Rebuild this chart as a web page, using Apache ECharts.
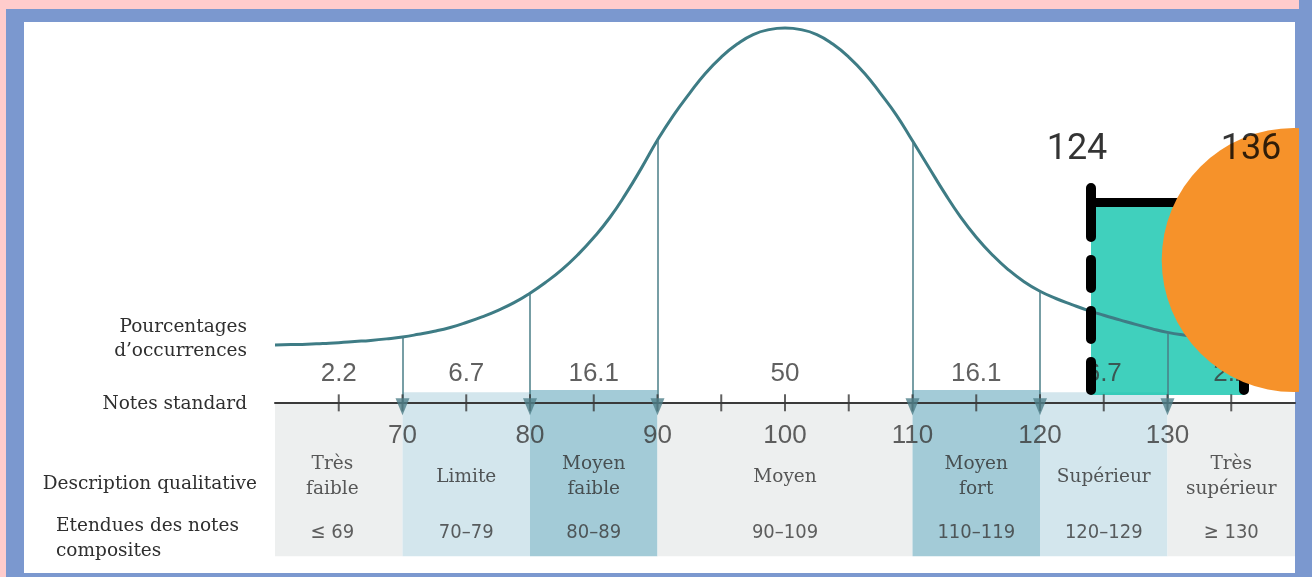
<!DOCTYPE html>
<html><head><meta charset="utf-8">
<script src="https://cdn.jsdelivr.net/npm/echarts/dist/echarts.min.js"></script>
<style>
html,body{margin:0;padding:0;width:1312px;height:577px;overflow:hidden;background:#FFCCCC;}
#frame{position:absolute;left:6px;top:9px;width:1306px;height:568px;background:#7B98CF;}
#chart{position:absolute;left:0;top:0;width:1312px;height:577px;}
</style></head><body><div id="frame"></div><div id="chart"></div>
<script>
// ---- data ----
const curveX = [60,61.25,62.5,63.75,65,66.25,67.5,68.75,70,71.25,72.5,73.75,75,76.25,77.5,78.75,80,81.25,82.5,83.75,85,86.25,87.5,88.75,90,91.25,92.5,93.75,95,96.25,97.5,98.75,100,
                101.25,102.5,103.75,105,106.25,107.5,108.75,110,111.25,112.5,113.75,115,116.25,117.5,118.75,120,121.25,122.5,123.75,125,126.25,127.5,128.75,130,131.25,132.5,133.75,135,136.25,137.5,138.75,140];
const curveY = [15.2,15.3,15.4,15.6,15.8,16.1,16.4,16.8,17.3,18.0,18.8,19.8,21.1,22.6,24.3,26.3,28.8,31.7,35.0,38.9,43.4,48.6,54.8,61.7,69.0,75.5,81.2,86.5,90.8,94.2,96.7,98.0,98.4,
                98.0,96.7,94.2,90.8,86.5,81.2,75.5,68.8,62.0,55.2,48.9,43.5,38.9,35.0,31.8,29.3,27.4,25.8,24.3,23.0,21.8,20.6,19.5,18.5,17.8,17.3,16.9,16.5,16.2,16.0,15.8,15.6];
const dropX = [70,80,90,110,120,130];
const tickX = [65,70,75,80,85,90,95,100,105,110,115,120,125,130,135];
const axisLabelValues = [70,80,90,100,110,120,130];
const percentX = [65,75,85,100,115,125,135];
const percentLabels = ['2.2','6.7','16.1','50','16.1','6.7','2.2'];
const bandEdges = [60,70,80,90,110,120,130,140];
const bandTones = ['gray','light','medium','gray','medium','light','gray'];
const columnX = [64.5,75,85,100,115,125,135];
const descriptions = ['Très\nfaible','Limite','Moyen\nfaible','Moyen','Moyen\nfort','Supérieur','Très\nsupérieur'];
const ranges = ['≤ 69','70–79','80–89','90–109','110–119','120–129','≥ 130'];
const highlightRange = [124,136];
const highlightLabels = ['124','136'];
const circleCenter = [139.9, 37.5];
const rowLabels = ['Pourcentages','d’occurrences','Notes standard','Description qualitative','Etendues des notes','composites'];

// ---- styles ----
const toneColor = {gray:'#EDEFEF', light:'#D3E6ED', medium:'#A3CBD7'};
const toneTop = {gray:0, light:2.8, medium:3.4};
const sans = '"Liberation Sans", Arial, sans-serif';
const serif = '"DejaVu Serif", serif';
const ink = '#383838';
const serifInk = '#2f2f2f';

const curveAt = v => curveY[curveX.indexOf(v)];
const labelSeries = (xs, y, texts, font, size, z, extra) => ({
  type:'scatter', z, symbolSize:1, itemStyle:{color:'rgba(0,0,0,0)'}, silent:true, animation:false,
  data: xs.map((x,i)=>({value:[x,y], name:texts[i]})),
  label: Object.assign({show:true, position:'inside', formatter:'{b}', color:ink, fontFamily:font, fontSize:size}, extra||{})
});
const leftText = (t, x, y, align) => ({type:'text', z:5, x, y,
  style:{text:t, align, verticalAlign:'middle', font:'18.5px '+serif, fill:serifInk}});
const dashStyle = {color:'#000', width:10, type:[28,23,28,23,28,23,52,23], cap:'round'};

const chart = echarts.init(document.getElementById('chart'), null, {renderer:'canvas'});
chart.setOption({
  backgroundColor:'transparent',
  animation:false,
  grid:{left:275, right:17, top:22, bottom:18, containLabel:false, outerBoundsMode:'none'},
  xAxis:{type:'value', min:60, max:140, interval:5, z:4,
    axisLine:{show:true, onZero:true, lineStyle:{color:'#3a3a3a', width:2}},
    axisTick:{show:false}, splitLine:{show:false}, axisLabel:{show:false}},
  yAxis:{type:'value', min:-41, max:100, show:false, splitLine:{show:false}},
  graphic:{elements:[
    {type:'rect', z:-10, shape:{x:24, y:22, width:1271, height:551}, style:{fill:'#FFFFFF'}},
    {type:'rect', z:100, shape:{x:1299, y:0, width:13, height:577}, style:{fill:'#7B98CF'}},
    leftText(rowLabels[0], 247, 327, 'right'),
    leftText(rowLabels[1], 247, 351, 'right'),
    leftText(rowLabels[2], 247, 404, 'right'),
    leftText(rowLabels[3], 257, 484, 'right'),
    leftText(rowLabels[4], 56, 526, 'left'),
    leftText(rowLabels[5], 56, 551, 'left')
  ]},
  series:[
    {type:'line', z:1, data:[], silent:true,
      markArea:{silent:true, data: bandTones.map((t,i)=>[
        {xAxis:bandEdges[i], yAxis:-40.3, itemStyle:{color:toneColor[t]}},
        {xAxis:bandEdges[i+1], yAxis:toneTop[t]}])}},
    {type:'line', z:3, data: curveX.map((x,i)=>[x,curveY[i]]), smooth:0.5, symbol:'none', silent:true,
      lineStyle:{color:'#3E7C85', width:3},
      markLine:{silent:true, symbol:['none','none'], label:{show:false},
        lineStyle:{color:'#4A7E87', width:1.5, type:'solid'},
        data: dropX.map(v=>[{coord:[v,curveAt(v)]},{coord:[v,0]}])}},
    labelSeries(percentX, 7.6, percentLabels, sans, 26, 3),
    labelSeries(axisLabelValues, -8.7, axisLabelValues.map(String), sans, 26, 3),
    labelSeries(columnX, -19.4, descriptions, serif, 18.5, 3, {lineHeight:25, color:serifInk}),
    labelSeries(columnX, -34.2, ranges, '"DejaVu Sans Condensed", '+sans, 20, 3),
    {type:'scatter', z:5, silent:true, symbol:'rect', symbolSize:[2,17], itemStyle:{color:'#3a3a3a'},
      data: tickX.map(v=>[v,0])},
    {type:'scatter', z:6, silent:true, symbol:'triangle', symbolRotate:180, symbolSize:[14,17], symbolOffset:[0,4],
      itemStyle:{color:'#4F8089'}, data: dropX.map(v=>[v,0])},
    {type:'line', z:7, data:[], silent:true,
      markArea:{silent:true, itemStyle:{color:'rgba(10,195,170,0.78)'},
        data:[[{xAxis:highlightRange[0], yAxis:2.06},{xAxis:highlightRange[1], yAxis:51.4}]]}},
    {type:'scatter', z:8, silent:true, symbolSize:264, itemStyle:{color:'#F6922A', opacity:1},
      data:[circleCenter]},
    {type:'line', z:9, data:[], silent:true,
      markLine:{silent:true, symbol:['none','none'], label:{show:false},
        data:[
          [{coord:[highlightRange[0],3.4], lineStyle:dashStyle},{coord:[highlightRange[0],56.4]}],
          [{coord:[highlightRange[1],3.4], lineStyle:dashStyle},{coord:[highlightRange[1],56.4]}],
          [{coord:[highlightRange[0],52.6], lineStyle:{color:'#000', width:9, type:'solid', cap:'butt'}},{coord:[highlightRange[1],52.6]}]
        ]}},
    {type:'scatter', z:9, symbolSize:1, itemStyle:{color:'rgba(0,0,0,0)'}, silent:true,
      data: highlightRange.map((x,i)=>({value:[x,66.4], name:highlightLabels[i],
        label:{offset:[i===0?-14:7,0]}})),
      label:{show:true, position:'inside', formatter:'{b}', color:'#000', fontFamily:'Roboto, sans-serif', fontSize:36}}
  ]
});
</script></body></html>
